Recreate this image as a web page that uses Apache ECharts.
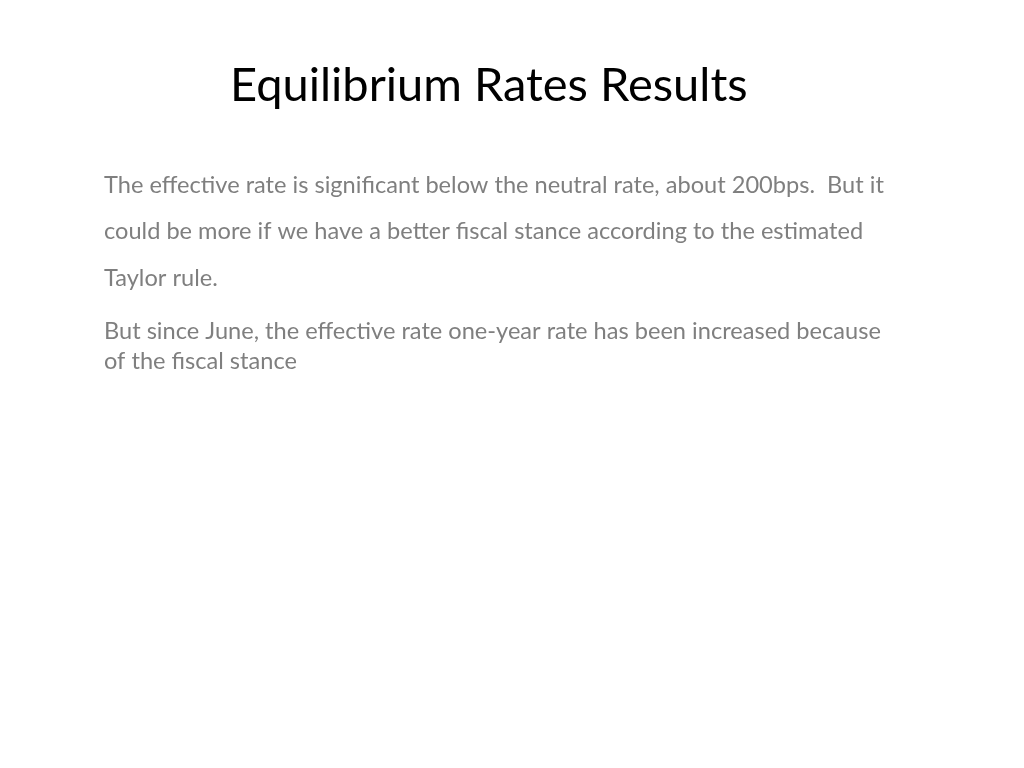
<!DOCTYPE html>
<html>
<head>
<meta charset="utf-8">
<script src="https://cdn.jsdelivr.net/npm/echarts@6/dist/echarts.min.js"></script>
<style>html,body{margin:0;padding:0;background:#fff;}#c{width:1024px;height:768px;}</style>
</head>
<body>
<div id="c"></div>
<script>
const titleText = "Equilibrium Rates Results";
const paragraph1 = [
  "The effective rate is significant below the neutral rate, about 200bps.  But it",
  "could be more if we have a better fiscal stance according to the estimated",
  "Taylor rule."
];
const paragraph2 = [
  "But since June, the effective rate one-year rate has been increased because",
  "of the fiscal stance"
];
const p1Y = [185, 231, 278];
const p2Y = [331, 361];

const chart = echarts.init(document.getElementById('c'));
const elements = [];
elements.push({
  type: 'text', x: 230, y: 86,
  style: { text: titleText, fill: '#000', font: '47px Lato', textVerticalAlign: 'middle' }
});
paragraph1.forEach((t, i) => elements.push({
  type: 'text', x: 104, y: p1Y[i],
  style: { text: t, fill: '#7f7f7f', font: '23.6px Lato', textVerticalAlign: 'middle' }
}));
paragraph2.forEach((t, i) => elements.push({
  type: 'text', x: 104, y: p2Y[i],
  style: { text: t, fill: '#7f7f7f', font: '23.6px Lato', textVerticalAlign: 'middle' }
}));
chart.setOption({ backgroundColor: '#fff', graphic: { elements } });
</script>
</body>
</html>
